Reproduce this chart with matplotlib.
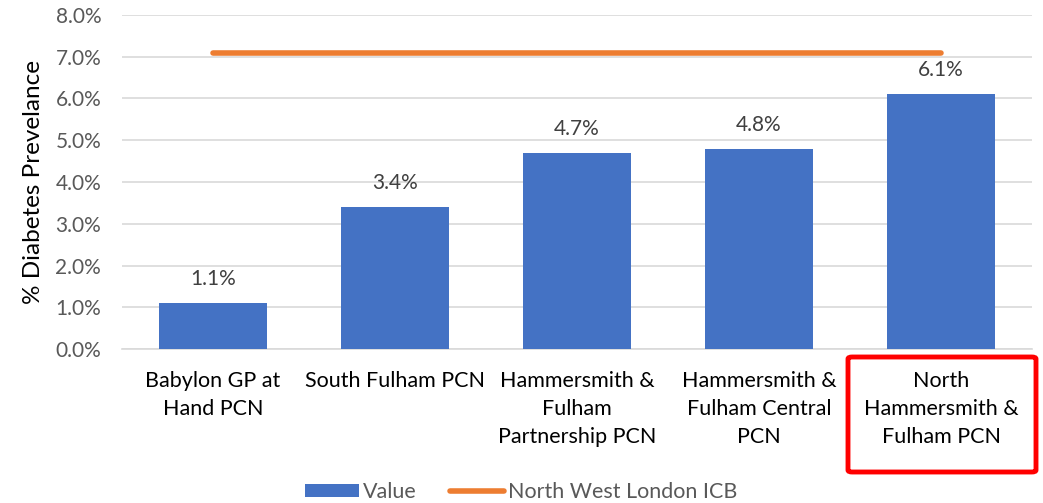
import matplotlib
matplotlib.use("Agg")
import matplotlib.pyplot as plt
from matplotlib.patches import FancyBboxPatch
from matplotlib.ticker import PercentFormatter

categories = ["Babylon GP at\nHand PCN", "South Fulham PCN", "Hammersmith &\nFulham\nPartnership PCN",
              "Hammersmith &\nFulham Central\nPCN", "North\nHammersmith &\nFulham PCN"]
values = [1.1, 3.4, 4.7, 4.8, 6.1]
icb_value = 7.1
value_labels = ["1.1%", "3.4%", "4.7%", "4.8%", "6.1%"]

plt.rcParams['font.family'] = ['Lato', 'DejaVu Sans']

fig = plt.figure(figsize=(10.43, 5.03), dpi=100)
ax = fig.add_axes([122/1043, 1-349/503, 910/1043, 334/503])

x = list(range(len(categories)))
bars = ax.bar(x, values, width=0.59, color="#4472C4", label="Value", zorder=3)
line, = ax.plot(x, [icb_value]*len(x), color="#ED7D31", lw=4, label="North West London ICB", zorder=4,
                solid_capstyle='round')
for xi, v, lab in zip(x, values, value_labels):
    ax.annotate(lab, (xi, v), xytext=(0, 10), textcoords="offset points", ha="center", va="bottom",
                fontsize=15, color="#404040")

ax.set_xlim(-0.5, len(categories)-0.5)
ax.set_ylim(0, 8)
ax.set_yticks([i for i in range(9)])
ax.yaxis.set_major_formatter(PercentFormatter(decimals=1))
ax.grid(axis="y", color="#D9D9D9", lw=1.2, zorder=0)
for s in ["top", "right", "left"]:
    ax.spines[s].set_visible(False)
ax.spines["bottom"].set_color("#D9D9D9")
ax.spines["bottom"].set_linewidth(1.2)
ax.tick_params(axis="y", length=0, labelsize=15, labelcolor="#595959", pad=15)
ax.tick_params(axis="x", length=0, labelsize=15.5, labelcolor="#000000", pad=16)
ax.set_xticks(x)
ax.set_xticklabels(categories, linespacing=1.5, va="top")
ax.set_ylabel("% Diabetes Prevelance", fontsize=17.5, labelpad=8)

leg = fig.legend([bars, line], ["Value", "North West London ICB"], loc="lower center",
                 bbox_to_anchor=(0.5, -0.037), ncol=2, frameon=False,
                 fontsize=15.5, labelcolor="#595959", handlelength=2.5, handleheight=0.55,
                 columnspacing=1.55, handletextpad=0.2)

box = FancyBboxPatch((848/1043, 1-472/503), 188/1043, 115/503, transform=fig.transFigure,
                     boxstyle="round,pad=0,rounding_size=0.004", fill=False,
                     edgecolor="#FF0000", lw=3.5)
fig.patches.append(box)

fig.savefig("out.png", dpi=100)
